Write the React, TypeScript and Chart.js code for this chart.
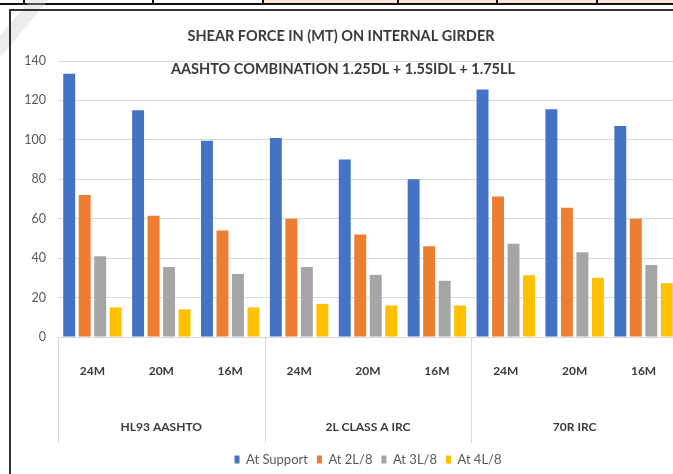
import React, { useEffect, useRef } from "react";
import { Chart, registerables } from "chart.js";

Chart.register(...registerables);

const categories = ["24M", "20M", "16M", "24M", "20M", "16M", "24M", "20M", "16M"];
const groups = ["HL93 AASHTO", "2L CLASS A IRC", "70R IRC"];
const seriesNames = ["At Support", "At 2L/8", "At 3L/8", "At 4L/8"];
const atSupport = [133.5, 115, 99.5, 101, 90, 80, 125.5, 115.5, 107];
const at2L8 = [72, 61.5, 54, 60, 52, 46, 71.3, 65.5, 60];
const at3L8 = [41, 35.5, 32, 35.5, 31.5, 28.5, 47.3, 43, 36.5];
const at4L8 = [15, 14, 15, 16.8, 16, 16, 31.3, 30, 27.3];
const seriesColors = ["#4472C4", "#ED7D31", "#A5A5A5", "#FFC000"];
const yMin = 0;
const yMax = 140;
const yStep = 20;
const titleText = "SHEAR FORCE IN (MT) ON INTERNAL GIRDER";
const subtitleText = "AASHTO COMBINATION 1.25DL + 1.5SIDL + 1.75LL";

const FONT = "Lato, 'Liberation Sans Narrow', Roboto, sans-serif";

const overlayPlugin = {
  id: "overlay",
  afterDraw(chart: any) {
    const ctx = chart.ctx;
    const xs = chart.scales.x;
    const area = chart.chartArea;
    const n = categories.length;
    const catW = (xs.right - xs.left) / n;
    const per = n / groups.length;
    ctx.save();
    // group dividers
    ctx.strokeStyle = "#d9d9d9";
    ctx.lineWidth = 1;
    for (let g = 0; g <= groups.length; g++) {
      const x = Math.round(xs.left + g * per * catW) + 0.5;
      ctx.beginPath();
      ctx.moveTo(x, area.bottom);
      ctx.lineTo(x, area.bottom + 106);
      ctx.stroke();
    }
    // group labels
    ctx.fillStyle = "#3a3a3a";
    ctx.font = `bold 12px ${FONT}`;
    ctx.textAlign = "center";
    ctx.textBaseline = "middle";
    groups.forEach((name, g) => {
      const cx = xs.left + (g * per + per / 2) * catW;
      ctx.fillText(name, cx, area.bottom + 90);
    });
    // titles
    ctx.fillStyle = "#3a3a3a";
    ctx.font = `bold 14.5px ${FONT}`;
    ctx.fillText(titleText, 341, 36);
    ctx.fillText(subtitleText, 343, 69);
    ctx.restore();
  },
};

export default function App() {
  const ref = useRef<HTMLCanvasElement>(null);
  useEffect(() => {
    document.body.style.margin = "0";
    const data = [atSupport, at2L8, at3L8, at4L8];
    const chart = new Chart(ref.current as HTMLCanvasElement, {
      type: "bar",
      data: {
        labels: categories,
        datasets: seriesNames.map((name, i) => ({
          label: name,
          data: data[i],
          backgroundColor: seriesColors[i],
          borderWidth: 0,
          categoryPercentage: 0.9,
          barPercentage: 0.77,
        })),
      },
      options: {
        animation: false,
        responsive: false,
        maintainAspectRatio: false,
        layout: { padding: { left: 10, top: 61, right: 12, bottom: 0 } },
        scales: {
          x: {
            grid: { display: false, drawTicks: false },
            border: { display: true, color: "#d9d9d9" },
            ticks: {
              padding: 27,
              color: "#3a3a3a",
              autoSkip: false,
              maxRotation: 0,
              font: { family: FONT, size: 12, weight: "bold" },
            },
            afterFit: (s: any) => {
              s.height = 107;
            },
          },
          y: {
            min: yMin,
            max: yMax,
            ticks: {
              stepSize: yStep,
              padding: 12,
              color: "#595959",
              font: { family: FONT, size: 12.5 },
            },
            grid: { color: "#d9d9d9", drawTicks: false },
            border: { display: false },
            afterFit: (s: any) => {
              s.width = 48;
            },
          },
        },
        plugins: {
          legend: {
            position: "bottom",
            fullSize: false,
            labels: {
              boxWidth: 5,
              boxHeight: 8,
              padding: 9,
              color: "#595959",
              font: { family: FONT, size: 13 },
            },
          },
          tooltip: { enabled: false },
        },
      } as any,
      plugins: [overlayPlugin],
    });
    return () => chart.destroy();
  }, []);

  const vlines = [23, 152, 262, 397, 496, 596];
  return (
    <div
      style={{
        position: "fixed",
        left: 0,
        top: 0,
        width: 673,
        height: 474,
        overflow: "hidden",
        background: "#ffffff",
      }}
    >
      <div style={{ position: "absolute", left: 262, top: 0, width: 420, height: 3, background: "#FBE5D6" }} />
      <div style={{ position: "absolute", left: 0, top: 3, width: 673, height: 2, background: "#111" }} />
      {vlines.map((x) => (
        <div key={x} style={{ position: "absolute", left: x, top: 0, width: 2, height: 4, background: "#111" }} />
      ))}
      <div
        style={{
          position: "absolute",
          left: -20,
          top: 10,
          width: 90,
          height: 14,
          background: "rgba(200,200,200,0.35)",
          transform: "rotate(-50deg)",
        }}
      />
      <div
        style={{
          position: "absolute",
          left: 9,
          top: 9,
          width: 720,
          height: 520,
          border: "2px solid #333",
          boxSizing: "border-box",
        }}
      />
      <canvas
        ref={ref}
        width={690}
        height={476}
        style={{ position: "absolute", left: 0, top: 0, width: 690, height: 476 }}
      />
    </div>
  );
}
